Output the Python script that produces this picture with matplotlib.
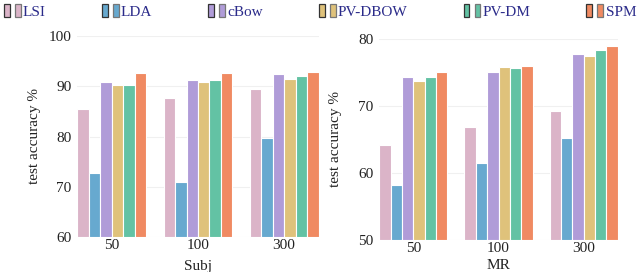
import matplotlib
matplotlib.use("Agg")
import matplotlib.pyplot as plt
import numpy as np
from matplotlib.patches import Rectangle
from matplotlib.legend_handler import HandlerTuple

methods = ["LSI", "LDA", "cBow", "PV-DBOW", "PV-DM", "SPM"]
colors = ["#dbb4c8", "#67a9cf", "#b09cd8", "#dfc27b", "#63c2a4", "#f08a62"]
dims = ["50", "100", "300"]

subj = {
    "LSI":     [85.4, 87.7, 89.5],
    "LDA":     [72.7, 71.0, 79.8],
    "cBow":    [90.9, 91.3, 92.4],
    "PV-DBOW": [90.2, 90.9, 91.5],
    "PV-DM":   [90.2, 91.2, 92.1],
    "SPM":     [92.6, 92.7, 92.8],
}
mr = {
    "LSI":     [64.2, 66.8, 69.3],
    "LDA":     [58.2, 61.5, 65.2],
    "cBow":    [74.3, 75.0, 77.7],
    "PV-DBOW": [73.8, 75.8, 77.5],
    "PV-DM":   [74.3, 75.7, 78.4],
    "SPM":     [75.0, 75.9, 79.0],
}

plt.rcParams['font.family'] = ['Liberation Serif', 'DejaVu Serif']

fig = plt.figure(figsize=(6.4, 2.72), dpi=100)
ax1 = fig.add_axes([77/640, 1-237/272, (319-77)/640, (237-36)/272])
ax2 = fig.add_axes([379/640, 1-240/272, (618-379)/640, (240-39)/272])

def draw(ax, data, ylim, yticks, xlabel, ylab_x, xlab_y):
    n = len(methods)
    w = 0.8 / n
    x = np.arange(len(dims))
    for i, m in enumerate(methods):
        ax.bar(x - 0.4 + w * (i + 0.5), np.array(data[m]) - ylim[0], width=w,
               bottom=ylim[0], color=colors[i], edgecolor="white", linewidth=0.8, zorder=3)
    ax.set_ylim(*ylim)
    ax.set_xlim(-0.405, 2.405)
    ax.set_yticks(yticks)
    ax.set_xticks(x)
    ax.set_xticklabels(dims)
    ax.grid(axis="y", color="#f0f0f0", linewidth=0.8, zorder=0)
    for s in ax.spines.values():
        s.set_visible(False)
    ax.tick_params(length=0, labelsize=11, colors="#222222")
    ax.tick_params(axis="x", pad=1.5)
    ax.tick_params(axis="y", pad=4)
    ax.set_ylabel("test accuracy %", fontsize=11, color="#222222")
    ax.set_xlabel(xlabel, fontsize=11, color="#222222")
    ax.yaxis.set_label_coords(ylab_x, 0.5)
    ax.xaxis.set_label_coords(0.5, xlab_y)
    ax.xaxis.label.set_verticalalignment("center")
    ax.yaxis.label.set_verticalalignment("center")

draw(ax1, subj, (60, 100), [60, 70, 80, 90, 100], "Subj", -0.174, -0.145)
draw(ax2, mr, (50, 80), [50, 60, 70, 80], "MR", -0.184, -0.125)

handles = []
for c in colors:
    p1 = Rectangle((0, 0), 1, 1, facecolor=c, edgecolor="#333333", linewidth=0.9)
    p2 = Rectangle((0, 0), 1, 1, facecolor=c, edgecolor="#777777", linewidth=0.9)
    handles.append((p1, p2))
leg = fig.legend(handles, methods, loc="upper left", bbox_to_anchor=(0.0, 1.0, 1.0, 0.0),
                 mode="expand", ncol=6, frameon=False, fontsize=11,
                 handler_map={tuple: HandlerTuple(ndivide=None, pad=0.33)},
                 handlelength=1.1, handleheight=0.95, handletextpad=0.15,
                 borderaxespad=0.15, borderpad=0.1)
for t in leg.get_texts():
    t.set_color("#2b2b8a")

fig.savefig("out.png", dpi=100)
